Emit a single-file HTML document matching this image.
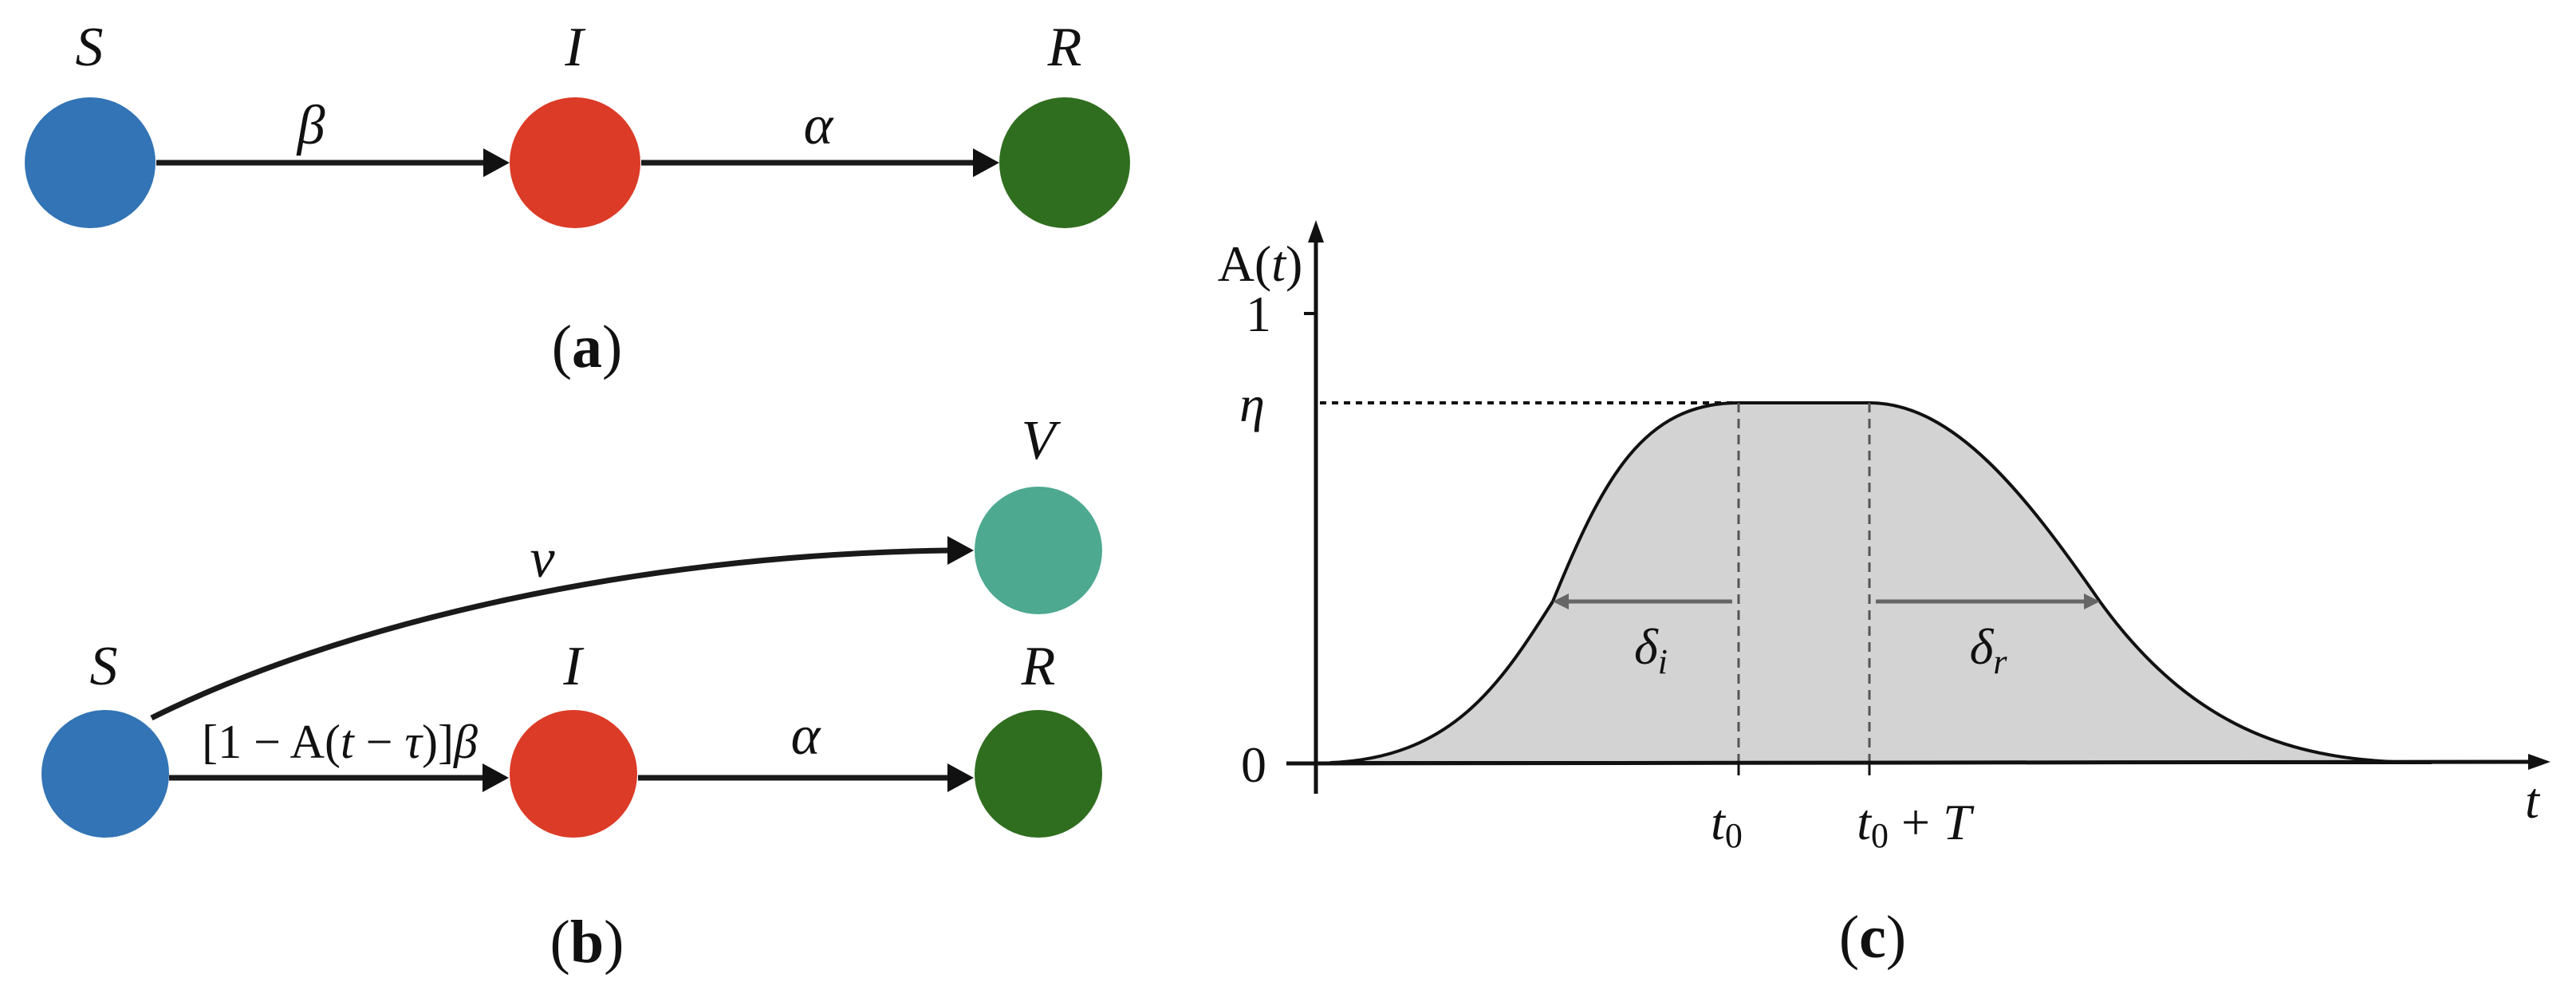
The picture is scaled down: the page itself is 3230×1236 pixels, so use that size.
<!DOCTYPE html>
<html><head><meta charset="utf-8"><style>
html,body{margin:0;padding:0;background:#fff;}
svg{display:block;}
text{font-family:"Liberation Serif","DejaVu Serif",serif;fill:#111;}
.it{font-style:italic;}
</style></head><body>
<svg width="3230" height="1236" viewBox="0 0 3230 1236" xmlns="http://www.w3.org/2000/svg">
<!-- panel a -->
<g stroke="#1a1a1a" stroke-width="7" fill="none">
<line x1="196" y1="204" x2="610" y2="204"/>
<line x1="804" y1="204" x2="1222" y2="204"/>
</g>
<polygon points="606,186 639,204 606,222" fill="#111"/>
<polygon points="1220,186 1253,204 1220,222" fill="#111"/>
<circle cx="113" cy="204" r="82" fill="#3274b5"/>
<circle cx="721" cy="204" r="82" fill="#db3b27"/>
<circle cx="1335" cy="204" r="82" fill="#306e1f"/>
<g font-size="70" text-anchor="middle">
<text x="112" y="82" class="it">S</text>
<text x="720" y="82" class="it">I</text>
<text x="1335" y="82" class="it">R</text>
<text x="390" y="180" class="it">β</text>
<text x="1026" y="180" class="it">α</text>
</g>
<text x="736" y="460" font-size="76" text-anchor="middle">(<tspan font-weight="bold">a</tspan>)</text>
<!-- panel b -->
<g stroke="#1a1a1a" stroke-width="7" fill="none">
<line x1="212" y1="975" x2="608" y2="975"/>
<line x1="800" y1="975" x2="1190" y2="975"/>
<path d="M190,900 C420,785 790,695 1190,690"/>
</g>
<polygon points="605,957 638,975 605,993" fill="#111"/>
<polygon points="1188,957 1221,975 1188,993" fill="#111"/>
<polygon points="1188,672 1221,690 1188,708" fill="#111"/>
<circle cx="1302" cy="690" r="80" fill="#4ea991"/>
<circle cx="132" cy="970" r="80" fill="#3274b5"/>
<circle cx="719" cy="970" r="80" fill="#db3b27"/>
<circle cx="1302" cy="970" r="80" fill="#306e1f"/>
<g font-size="70" text-anchor="middle">
<text x="1302" y="575" class="it">V</text>
<text x="130" y="858" class="it">S</text>
<text x="718" y="858" class="it">I</text>
<text x="1302" y="858" class="it">R</text>
<text x="680" y="723" class="it">ν</text>
<text x="1010" y="945" class="it">α</text>
<text x="426" y="950" font-size="60">[1 − A(<tspan class="it">t</tspan> − <tspan class="it">τ</tspan>)]<tspan class="it">β</tspan></text>
</g>
<text x="736" y="1206" font-size="76" text-anchor="middle">(<tspan font-weight="bold">b</tspan>)</text>
<!-- panel c -->
<path d="M1668,956 C1820,950 1880,860 1947,754 C2010,600 2060,505 2180,505 L2344,505 C2450,505 2540,620 2633,754 C2760,930 2900,956 3049,956 Z" fill="#d3d3d3" stroke="#111" stroke-width="4"/>
<line x1="1655" y1="505" x2="2180" y2="505" stroke="#111" stroke-width="4" stroke-dasharray="8,7"/>
<line x1="2180" y1="505" x2="2180" y2="956" stroke="#555" stroke-width="3" stroke-dasharray="12,8"/>
<line x1="2344" y1="505" x2="2344" y2="956" stroke="#555" stroke-width="3" stroke-dasharray="12,8"/>
<line x1="2172" y1="754" x2="1960" y2="754" stroke="#666" stroke-width="5"/>
<polygon points="1947,754 1967,744 1967,764" fill="#666"/>
<line x1="2352" y1="754" x2="2620" y2="754" stroke="#666" stroke-width="5"/>
<polygon points="2633,754 2613,744 2613,764" fill="#666"/>
<line x1="1650" y1="995" x2="1650" y2="300" stroke="#111" stroke-width="5"/>
<polygon points="1650,276 1640,304 1660,304" fill="#111"/>
<line x1="1613" y1="957" x2="3175" y2="955" stroke="#111" stroke-width="5"/>
<polygon points="3198,955 3170,945 3170,965" fill="#111"/>
<line x1="1635" y1="393" x2="1650" y2="393" stroke="#111" stroke-width="4"/>
<line x1="2180" y1="956" x2="2180" y2="972" stroke="#111" stroke-width="3"/>
<line x1="2344" y1="956" x2="2344" y2="972" stroke="#111" stroke-width="3"/>
<g font-size="64" text-anchor="middle">
<text x="1580" y="352">A(<tspan class="it">t</tspan>)</text>
<text x="1578" y="415">1</text>
<text x="1570" y="528" class="it">η</text>
<text x="1572" y="980">0</text>
<text x="2165" y="1052"><tspan class="it">t</tspan><tspan font-size="44" dy="10">0</tspan></text>
<text x="2400" y="1052"><tspan class="it">t</tspan><tspan font-size="44" dy="10">0</tspan><tspan dy="-10"> + </tspan><tspan class="it">T</tspan></text>
<text x="3175" y="1025" class="it">t</text>
<text x="2070" y="832"><tspan class="it">δ</tspan><tspan font-size="44" dy="12" class="it">i</tspan></text>
<text x="2493" y="832"><tspan class="it">δ</tspan><tspan font-size="44" dy="12" class="it">r</tspan></text>
</g>
<text x="2348" y="1200" font-size="76" text-anchor="middle">(<tspan font-weight="bold">c</tspan>)</text>
</svg>
</body></html>
